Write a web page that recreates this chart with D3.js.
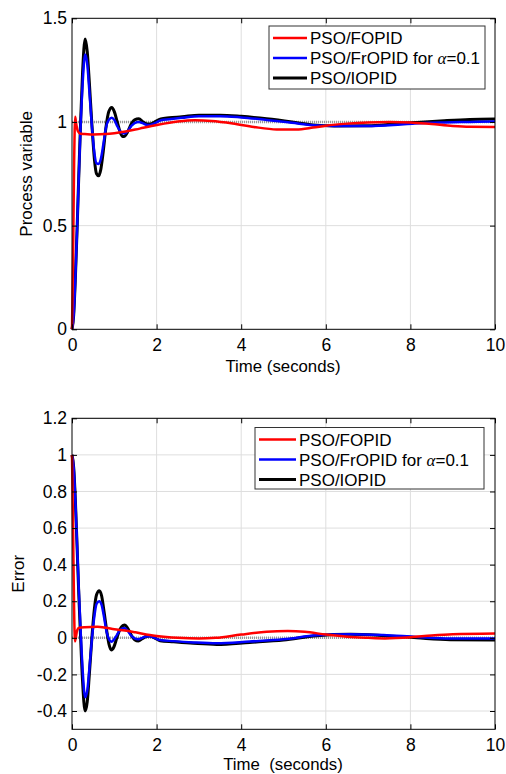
<!DOCTYPE html>
<html>
<head>
<meta charset="utf-8">
<script src="https://cdn.jsdelivr.net/npm/d3@7"></script>
<style>
  body { margin: 0; background: #fff; }
  text { font-family: "Liberation Sans", Arial, sans-serif; fill: #000; }
</style>
</head>
<body>
<svg id="chart" width="506" height="774"></svg>
<script>

// Series names, shared by both panels.
const seriesNames = ["PSO/FOPID", "PSO/FrOPID for ", "PSO/IOPID"];

// ---- Process variable (top panel) ----
const pvFopidT = [0, 0.025, 0.05, 0.075, 0.1, 0.14, 0.2, 0.3, 0.5, 0.8, 1.0, 1.3, 1.6, 2.0, 2.5, 2.9, 3.3, 3.8, 4.3, 4.84, 5.3, 5.7, 6.0, 6.5, 7.0, 7.5, 8.0, 8.5, 9.0, 9.4, 10];
const pvFopid  = [0, 0.35, 0.8, 1.025, 0.99, 0.955, 0.943, 0.942, 0.94, 0.942, 0.946, 0.955, 0.968, 0.985, 1.002, 1.008, 1.005, 0.993, 0.976, 0.964, 0.964, 0.973, 0.982, 0.992, 0.998, 1.0, 0.998, 0.99, 0.981, 0.977, 0.976];

const pvT = [0, 0.04, 0.08, 0.12, 0.16, 0.2, 0.25, 0.31, 0.36, 0.41, 0.47, 0.53, 0.58, 0.63, 0.68, 0.74, 0.8, 0.87, 0.94, 1.0, 1.07, 1.14, 1.2, 1.25, 1.31, 1.4, 1.48, 1.58, 1.68, 1.78, 1.86, 1.95, 2.1, 2.3, 2.6, 3.0, 3.5, 4.0, 4.6, 5.2, 5.7, 6.2, 7.0, 7.6, 8.1, 8.8, 9.4, 10];
const pvFropid = [0, 0.07, 0.25, 0.48, 0.73, 0.96, 1.18, 1.325, 1.28, 1.15, 0.98, 0.85, 0.80, 0.797, 0.82, 0.89, 0.97, 1.01, 1.02, 1.01, 0.98, 0.955, 0.945, 0.945, 0.955, 0.98, 0.995, 1.0, 0.993, 0.985, 0.986, 0.993, 1.008, 1.013, 1.02, 1.028, 1.028, 1.022, 1.01, 0.996, 0.984, 0.98, 0.98, 0.985, 0.993, 0.998, 1.0, 1.002];
const pvIopid  = [0, 0.07, 0.25, 0.48, 0.74, 0.98, 1.24, 1.40, 1.34, 1.19, 0.99, 0.82, 0.75, 0.74, 0.77, 0.86, 0.97, 1.05, 1.07, 1.05, 1.0, 0.95, 0.93, 0.932, 0.95, 0.99, 1.01, 1.015, 1.0, 0.99, 0.99, 1.0, 1.015, 1.02, 1.025, 1.033, 1.033, 1.027, 1.015, 1.0, 0.986, 0.981, 0.982, 0.99, 0.997, 1.006, 1.012, 1.014];

// ---- Error (bottom panel) ----
const errFopidT = [0, 0.025, 0.05, 0.07, 0.09, 0.12, 0.17, 0.3, 0.6, 0.8, 1.0, 1.25, 1.5, 1.84, 2.0, 2.5, 3.0, 3.4, 4.0, 4.6, 5.1, 5.5, 6.0, 6.5, 7.0, 7.4, 8.0, 8.5, 9.0, 10];
const errFopid  = [1.0, 0.6, 0.15, -0.02, 0.0, 0.04, 0.055, 0.058, 0.06, 0.055, 0.047, 0.04, 0.03, 0.015, 0.01, 0.0, -0.004, 0.0, 0.018, 0.033, 0.037, 0.033, 0.018, 0.006, 0.0, -0.003, 0.003, 0.013, 0.02, 0.024];

const errT = [0, 0.04, 0.08, 0.12, 0.16, 0.2, 0.25, 0.31, 0.36, 0.41, 0.47, 0.53, 0.58, 0.645, 0.7, 0.76, 0.82, 0.88, 0.93, 0.99, 1.06, 1.13, 1.2, 1.25, 1.31, 1.4, 1.48, 1.57, 1.66, 1.75, 1.84, 1.95, 2.08, 2.4, 2.87, 3.42, 4.2, 5.0, 5.79, 6.58, 7.36, 8.15, 8.94, 10];
const errFropid = [1.0, 0.93, 0.75, 0.51, 0.27, 0.06, -0.17, -0.325, -0.29, -0.17, -0.01, 0.12, 0.185, 0.20, 0.18, 0.11, 0.03, -0.01, -0.021, -0.01, 0.015, 0.04, 0.052, 0.052, 0.04, 0.012, -0.003, -0.008, 0.0, 0.007, 0.008, 0.0, -0.012, -0.018, -0.025, -0.03, -0.02, -0.008, 0.014, 0.02, 0.015, 0.005, -0.003, -0.004];
const errIopid  = [1.0, 0.93, 0.75, 0.5, 0.24, 0.02, -0.24, -0.40, -0.35, -0.2, 0.0, 0.16, 0.235, 0.258, 0.23, 0.14, 0.04, -0.04, -0.066, -0.05, 0.0, 0.045, 0.067, 0.07, 0.055, 0.015, -0.01, -0.017, -0.005, 0.007, 0.01, 0.0, -0.016, -0.022, -0.03, -0.036, -0.025, -0.012, 0.012, 0.019, 0.012, 0.0, -0.01, -0.012];

// Tick labels
const timeTicks = [0, 2, 4, 6, 8, 10];
const pvTicks = [0, 0.5, 1, 1.5];
const errTicks = [-0.4, -0.2, 0, 0.2, 0.4, 0.6, 0.8, 1, 1.2];

const colors = ["#ff0000", "#0000ff", "#000000"];
const widths = [2.5, 2.5, 3];

const svg = d3.select("#chart");

function zip(ts, vs) {
  return ts.map(function(t, i) { return { t: t, v: vs[i] }; });
}

/**
 * Draws one MATLAB-style panel: frame, grid, reference, curves, legend.
 */
function drawPanel(p) {
  var x = d3.scaleLinear().domain([0, 10]).range([72, 495]);
  var y = d3.scaleLinear().domain(p.yDomain).range([p.bottom, p.top]);
  var g = svg.append("g");

  // Grid lines
  g.selectAll(".vgrid")
    .data(timeTicks.slice(1, -1))
    .enter().append("line")
    .attr("x1", function(d) { return x(d); }).attr("x2", function(d) { return x(d); })
    .attr("y1", p.top).attr("y2", p.bottom)
    .attr("stroke", "#dedede").attr("stroke-width", 1);

  g.selectAll(".hgrid")
    .data(p.gridY)
    .enter().append("line")
    .attr("x1", x(0)).attr("x2", x(10))
    .attr("y1", function(d) { return y(d); }).attr("y2", function(d) { return y(d); })
    .attr("stroke", "#dedede").attr("stroke-width", 1);

  // Reference (set point) dotted line
  g.append("line")
    .attr("x1", x(0)).attr("x2", x(10))
    .attr("y1", y(p.ref)).attr("y2", y(p.ref))
    .attr("stroke", "#999").attr("stroke-width", 2.5)
    .attr("stroke-dasharray", "1,1");

  // Curves, black first so the others sit on top
  var line = d3.line()
    .x(function(d) { return x(d.t); })
    .y(function(d) { return y(d.v); })
    .curve(d3.curveMonotoneX);

  [2, 1, 0].forEach(function(i) {
    g.append("path")
      .datum(p.series[i])
      .attr("fill", "none")
      .attr("stroke", colors[i])
      .attr("stroke-width", widths[i])
      .attr("stroke-linejoin", "round")
      .attr("d", line);
  });

  // Axes with inward ticks
  g.append("g")
    .attr("transform", "translate(0," + p.bottom + ")")
    .call(d3.axisBottom(x).tickValues(timeTicks).tickSize(-5).tickPadding(9.5).tickFormat(function(d) { return String(d); }));
  g.append("g")
    .attr("transform", "translate(72,0)")
    .call(d3.axisLeft(y).tickValues(p.yTicks).tickSize(-5).tickPadding(5).tickFormat(function(d) { return String(d); }));
  g.append("g")
    .attr("transform", "translate(0," + p.top + ")")
    .call(d3.axisTop(x).tickValues(timeTicks).tickSize(-5).tickFormat(""));
  g.append("g")
    .attr("transform", "translate(495,0)")
    .call(d3.axisRight(y).tickValues(p.yTicks).tickSize(-5).tickFormat(""));

  g.selectAll(".domain").remove();
  g.selectAll(".tick line").attr("stroke", "#000");
  g.selectAll(".tick text")
    .style("font-family", "'Liberation Sans', Arial, sans-serif")
    .style("font-size", "17.5px");

  // Frame
  g.append("rect")
    .attr("x", 72).attr("y", p.top)
    .attr("width", 423).attr("height", p.bottom - p.top)
    .attr("fill", "none").attr("stroke", "#000").attr("stroke-width", 1);

  // Axis labels
  g.append("text")
    .attr("x", 283).attr("y", p.xLabelY)
    .style("text-anchor", "middle").style("font-size", "16.8px")
    .style("white-space", "pre")
    .text(p.xLabel);

  g.append("text")
    .attr("transform", "translate(" + p.yLabelX + "," + ((p.top + p.bottom) / 2) + ") rotate(-90)")
    .style("text-anchor", "middle").style("font-size", "17px")
    .text(p.yLabel);

  // Legend
  var L = p.legend;
  g.append("rect")
    .attr("x", L.x).attr("y", L.y).attr("width", L.w).attr("height", L.h)
    .attr("fill", "#fff").attr("stroke", "#333").attr("stroke-width", 1);

  seriesNames.forEach(function(name, i) {
    var ry = L.y + 12 + i * 20;
    g.append("line")
      .attr("x1", L.x + 4).attr("x2", L.x + 4 + L.lineW)
      .attr("y1", ry).attr("y2", ry)
      .attr("stroke", colors[i]).attr("stroke-width", widths[i]);
    var t = g.append("text")
      .attr("x", L.x + 7 + L.lineW).attr("y", ry + 6)
      .style("font-size", "17px")
      .text(name);
    if (i === 1) {
      t.append("tspan")
        .style("font-family", "'Liberation Serif', serif")
        .style("font-style", "italic")
        .text("α");
      t.append("tspan").text("=0.1");
    }
  });
}

drawPanel({
  top: 18.3, bottom: 329.3,
  yDomain: [0, 1.5], yTicks: pvTicks, gridY: [0.5, 1],
  ref: 1,
  series: [zip(pvFopidT, pvFopid), zip(pvT, pvFropid), zip(pvT, pvIopid)],
  xLabel: "Time (seconds)", xLabelY: 372, yLabel: "Process variable", yLabelX: 32,
  legend: { x: 269, y: 26, w: 216, h: 63, lineW: 34 }
});

drawPanel({
  top: 418.3, bottom: 729.3,
  yDomain: [-0.5, 1.2], yTicks: errTicks, gridY: errTicks,
  ref: 0,
  series: [zip(errFopidT, errFopid), zip(errT, errFropid), zip(errT, errIopid)],
  xLabel: "Time  (seconds)", xLabelY: 770.3, yLabel: "Error", yLabelX: 24,
  legend: { x: 255, y: 427.5, w: 229, h: 61.5, lineW: 37 }
});

</script>
</body>
</html>
